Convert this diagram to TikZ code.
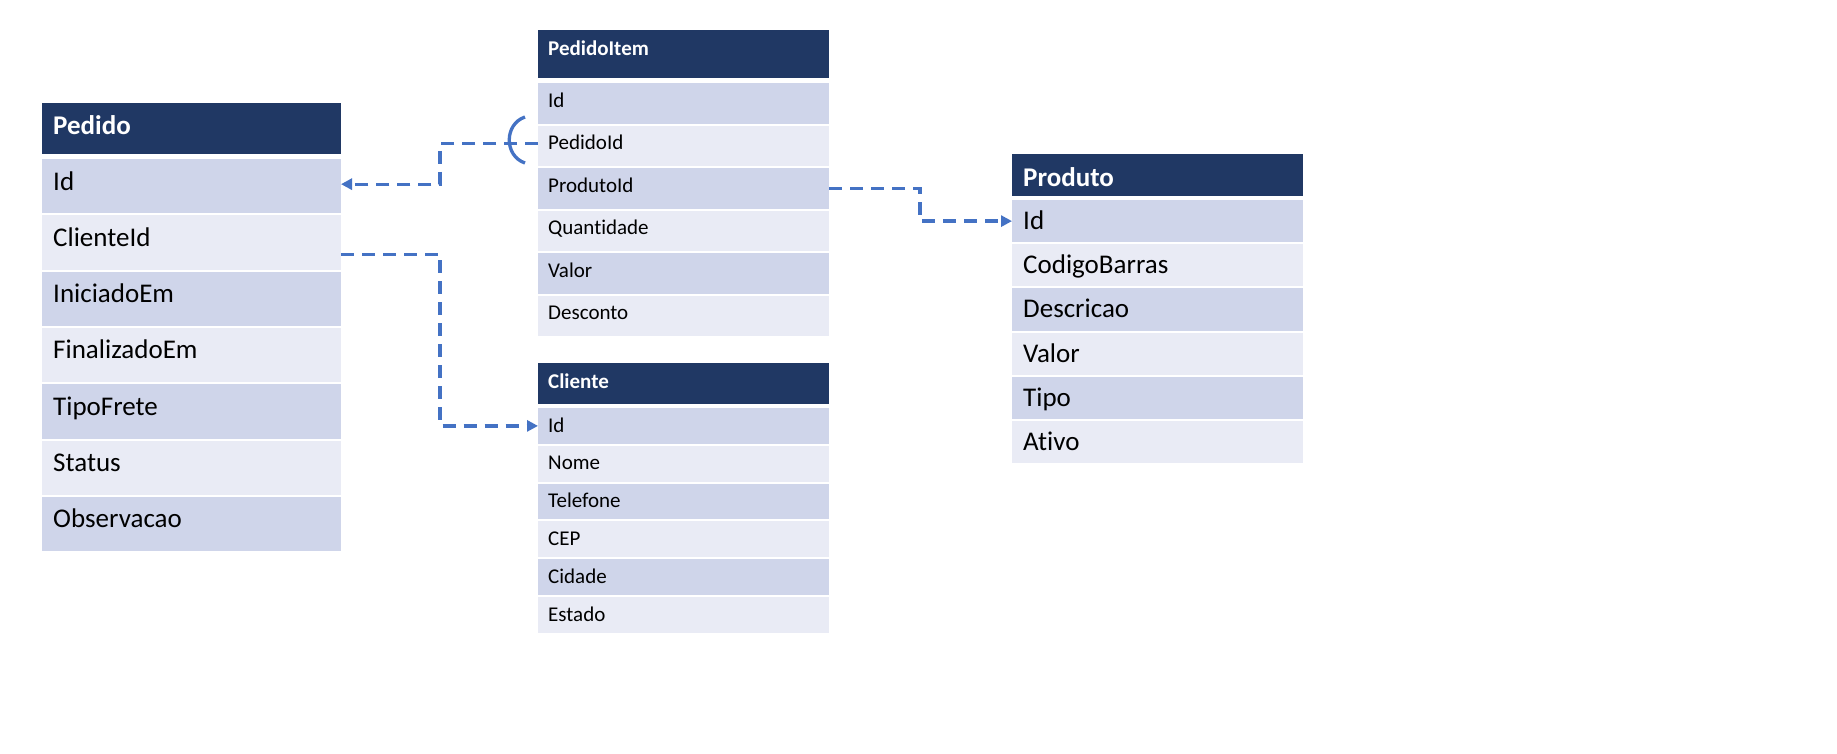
\documentclass[tikz,border=0pt]{standalone}
\usepackage{fontspec}
\setmainfont{Carlito}[Ligatures=NoCommon]
\usetikzlibrary{arrows.meta}
\definecolor{hdr}{HTML}{203864}
\definecolor{rowd}{HTML}{CFD5EA}
\definecolor{rowl}{HTML}{E9EBF5}
\definecolor{lnk}{HTML}{4472C4}
\tikzset{
  cell/.style={inner sep=0pt, outer sep=0pt, anchor=north west},
  hdrbox/.style={cell, fill=hdr},
  bigtxt/.style={inner sep=0pt, anchor=base west, font=\fontsize{27}{32}\selectfont, text=black},
  smalltxt/.style={inner sep=0pt, anchor=base west, font=\fontsize{21}{25}\selectfont, text=black},
  bighdr/.style={inner sep=0pt, anchor=base west, font=\fontsize{27}{32}\selectfont\bfseries, text=white},
  smallhdr/.style={inner sep=0pt, anchor=base west, font=\fontsize{21}{25}\selectfont\bfseries, text=white},
  conn/.style={draw=lnk, line width=3.3pt, dash pattern=on 13pt off 8pt},
  tip/.style={-{Triangle[length=11pt,width=11pt]}},
}
\begin{document}
\begin{tikzpicture}[x=1pt, y=-1pt]
\useasboundingbox[fill=white] (0,0) rectangle (1837,753);

% ---------- Pedido ----------
\node[hdrbox, minimum width=299pt, minimum height=51pt] (ped-h) at (42,103) {};
\node[bighdr] (ped-ht) at (53,134) {Pedido};
\foreach [count=\i from 0] \nm/\tx in {id/Id, cid/ClienteId, ini/IniciadoEm, fin/FinalizadoEm, tf/TipoFrete, st/Status, obs/Observacao} {
  \ifodd\i \def\fc{rowl}\else\def\fc{rowd}\fi
  \pgfmathsetmacro\tp{159+\i*56.3}
  \node[cell, fill=\fc, minimum width=299pt, minimum height=54.3pt] (ped-\nm) at (42,\tp) {};
  \node[bigtxt] (ped-\nm-t) at (53,\tp+31) {\tx};
}

% ---------- PedidoItem ----------
\node[hdrbox, minimum width=291pt, minimum height=48pt] (pi-h) at (538,30) {};
\node[smallhdr] (pi-ht) at (548,55) {PedidoItem};
\foreach [count=\i from 0] \nm/\tx in {id/Id, pid/PedidoId, prid/ProdutoId, qt/Quantidade, val/Valor, desc/Desconto} {
  \ifodd\i \def\fc{rowl}\else\def\fc{rowd}\fi
  \pgfmathsetmacro\tp{83+\i*42.5}
  \node[cell, fill=\fc, minimum width=291pt, minimum height=40.5pt] (pi-\nm) at (538,\tp) {};
  \node[smalltxt] (pi-\nm-t) at (548,\tp+24) {\tx};
}

% ---------- Cliente ----------
\node[hdrbox, minimum width=291pt, minimum height=41pt] (cli-h) at (538,363) {};
\node[smallhdr] (cli-ht) at (548,388) {Cliente};
\foreach [count=\i from 0] \nm/\tx in {id/Id, nome/Nome, tel/Telefone, cep/CEP, cid/Cidade, est/Estado} {
  \ifodd\i \def\fc{rowl}\else\def\fc{rowd}\fi
  \pgfmathsetmacro\tp{408+\i*37.8}
  \node[cell, fill=\fc, minimum width=291pt, minimum height=35.8pt] (cli-\nm) at (538,\tp) {};
  \node[smalltxt] (cli-\nm-t) at (548,\tp+24) {\tx};
}

% ---------- Produto ----------
\node[hdrbox, minimum width=291pt, minimum height=42pt] (pro-h) at (1012,154) {};
\node[bighdr] (pro-ht) at (1023,186) {Produto};
\foreach [count=\i from 0] \nm/\tx in {id/Id, cb/CodigoBarras, desc/Descricao, val/Valor, tipo/Tipo, at/Ativo} {
  \ifodd\i \def\fc{rowl}\else\def\fc{rowd}\fi
  \pgfmathsetmacro\tp{200+\i*44.2}
  \node[cell, fill=\fc, minimum width=291pt, minimum height=42.2pt] (pro-\nm) at (1012,\tp) {};
  \node[bigtxt] (pro-\nm-t) at (1023,\tp+29.5) {\tx};
}

% ---------- Connectors ----------
% PedidoItem.PedidoId -> Pedido.Id
\draw[conn, tip] ([yshift=2pt]pi-pid.west) -- ++(-98,0) |- ([yshift=2pt]ped-id.east);
\coordinate (arcT) at (525,117);
\coordinate (arcB) at (525,163);
\draw[lnk, line width=3.3pt] (arcT) .. controls +(-21,7) and +(-21,-7) .. (arcB);

% Pedido.ClienteId -> Cliente.Id
\draw[conn, tip] ([yshift=-12pt]ped-cid.east) -- ++(99,0) |- (cli-id.west);

% PedidoItem.ProdutoId -> Produto.Id
\draw[conn, tip] (pi-prid.east) -- ++(91,0) |- (pro-id.west);
\end{tikzpicture}
\end{document}
